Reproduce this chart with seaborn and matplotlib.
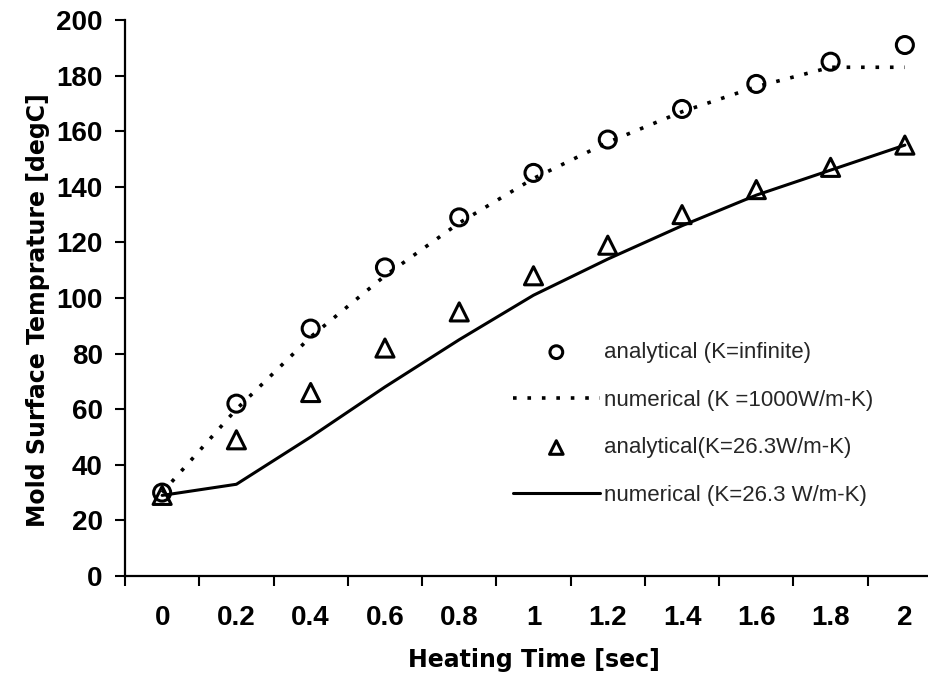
import matplotlib
matplotlib.use("Agg")
import matplotlib.pyplot as plt
import seaborn as sns
import pandas as pd

# Heating time categories (s)
time_labels = ["0", "0.2", "0.4", "0.6", "0.8", "1", "1.2", "1.4", "1.6", "1.8", "2"]

# Mold surface temperature (degC)
analytical_inf = [30, 62, 89, 111, 129, 145, 157, 168, 177, 185, 191]
numerical_1000 = [30, 60, 86, 108, 127, 143, 156, 167, 176, 183, 183]
analytical_26 = [29, 49, 66, 82, 95, 108, 119, 130, 139, 147, 155]
numerical_26 = [29, 33, 50, 68, 85, 101, 114, 126, 137, 146, 155]

df = pd.DataFrame({
    "time": time_labels,
    "analytical_inf": analytical_inf,
    "numerical_1000": numerical_1000,
    "analytical_26": analytical_26,
    "numerical_26": numerical_26,
})

sns.set_theme(style="white")
plt.rcParams["font.family"] = ["Liberation Sans", "DejaVu Sans"]

fig = plt.figure(figsize=(9.29, 6.81), dpi=100)
ax = fig.add_axes([125 / 929, 105 / 681, 817 / 929, 556 / 681])

sns.scatterplot(data=df, x="time", y="analytical_inf", ax=ax, marker="o", s=150,
                facecolors="none", edgecolor="black", linewidth=2.2,
                label="analytical (K=infinite)", zorder=3)
sns.lineplot(data=df, x="time", y="numerical_1000", ax=ax, color="black",
             linewidth=2.6, linestyle=(0, (1, 3)), label="numerical (K =1000W/m-K)",
             zorder=2)
sns.scatterplot(data=df, x="time", y="analytical_26", ax=ax, marker="^", s=170,
                facecolors="none", edgecolor="black", linewidth=2.2,
                label="analytical(K=26.3W/m-K)", zorder=3)
sns.lineplot(data=df, x="time", y="numerical_26", ax=ax, color="black",
             linewidth=2.2, linestyle="-", label="numerical (K=26.3 W/m-K)",
             zorder=2)

ax.set_xlim(-0.5, len(time_labels) - 0.5)
ax.set_ylim(0, 200)
ax.set_yticks(range(0, 201, 20))

# category labels at centres, tick marks between categories
ax.set_xticks(range(len(time_labels)))
ax.set_xticklabels(time_labels)
ax.set_xticks([i - 0.5 for i in range(len(time_labels) + 1)], minor=True)
ax.tick_params(axis="x", which="major", length=0, pad=21, labelsize=20)
ax.tick_params(axis="x", which="minor", length=7, width=1.5, direction="out",
               color="black", bottom=True)
ax.tick_params(axis="y", which="major", length=7, width=1.5, direction="out",
               color="black", left=True, pad=9, labelsize=20)
for lbl in ax.get_xticklabels() + ax.get_yticklabels():
    lbl.set_fontweight("bold")
    lbl.set_color("black")

for side in ["top", "right"]:
    ax.spines[side].set_visible(False)
for side in ["left", "bottom"]:
    ax.spines[side].set_color("black")
    ax.spines[side].set_linewidth(1.6)

axis_font = dict(family=["DejaVu Sans"], fontsize=17, fontweight="bold", color="black")
ax.set_xlabel("Heating Time [sec]", labelpad=12, **axis_font)
ax.set_ylabel("Mold Surface Temprature [degC]", **axis_font)
ax.yaxis.set_label_coords(-0.092, 0.478)

handles, labels = ax.get_legend_handles_labels()
ax.legend(handles, labels, loc="center left", frameon=False, fontsize=16,
          bbox_to_anchor=(513 / 929, 257 / 681), bbox_transform=fig.transFigure,
          handlelength=3.9, handletextpad=0.2, labelspacing=1.2, borderpad=0,
          borderaxespad=0, markerscale=0.75)

fig.savefig("out.png", dpi=100)
